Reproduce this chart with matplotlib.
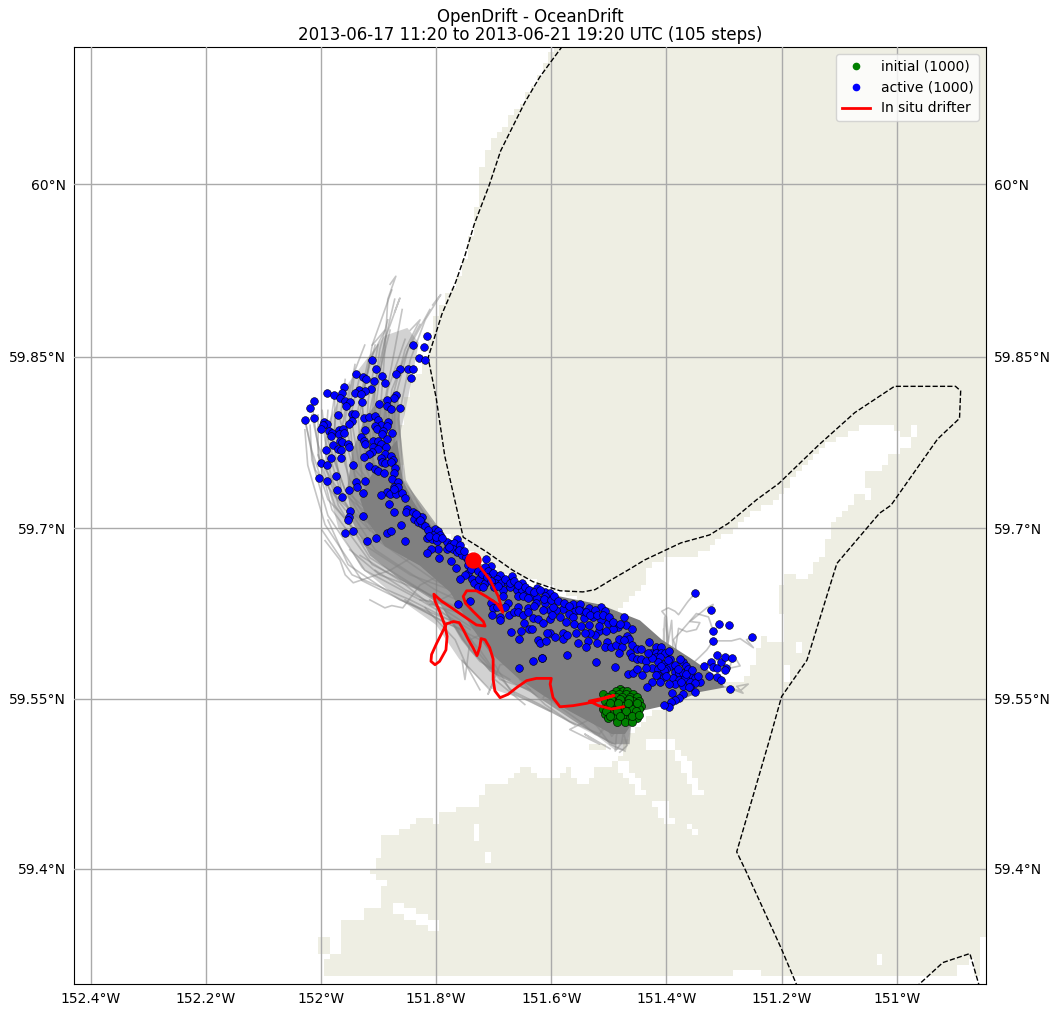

import matplotlib
matplotlib.use("Agg")
import matplotlib.pyplot as plt
import numpy as np
from matplotlib.colors import ListedColormap
from matplotlib.path import Path

LON_LIM = (-152.429, -150.845)
LAT_LIM = (59.298, 60.119)

LON_TICKS = [-152.4, -152.2, -152.0, -151.8, -151.6, -151.4, -151.2, -151.0]
LON_LABELS = ["152.4°W", "152.2°W", "152°W", "151.8°W", "151.6°W", "151.4°W", "151.2°W", "151°W"]
LAT_TICKS = [59.4, 59.55, 59.7, 59.85, 60.0]
LAT_LABELS = ["59.4°N", "59.55°N", "59.7°N", "59.85°N", "60°N"]

TITLE = "OpenDrift - OceanDrift\n2013-06-17 11:20 to 2013-06-21 19:20 UTC (105 steps)"

LAND = [
    (-151.592, 60.13), (-151.608, 60.105), (-151.634, 60.083), (-151.677, 60.054), (-151.708, 60.036),
    (-151.721, 60.012), (-151.731, 59.979), (-151.747, 59.938), (-151.766, 59.915), (-151.793, 59.891),
    (-151.806, 59.882), (-151.814, 59.850), (-151.828, 59.838), (-151.845, 59.830), (-151.854, 59.801),
    (-151.868, 59.780), (-151.868, 59.771), (-151.858, 59.751), (-151.858, 59.739), (-151.828, 59.714),
    (-151.793, 59.698), (-151.759, 59.687), (-151.724, 59.674), (-151.694, 59.661), (-151.655, 59.656),
    (-151.625, 59.652), (-151.602, 59.648), (-151.550, 59.637), (-151.516, 59.626), (-151.481, 59.626),
    (-151.476, 59.635), (-151.469, 59.637), (-151.441, 59.646), (-151.434, 59.663), (-151.408, 59.672),
    (-151.325, 59.679), (-151.319, 59.688), (-151.285, 59.698), (-151.250, 59.713), (-151.208, 59.725),
    (-151.200, 59.731), (-151.181, 59.742), (-151.156, 59.757), (-151.120, 59.774), (-151.087, 59.783),
    (-151.047, 59.792), (-151.017, 59.792), (-151.000, 59.784), (-150.977, 59.779), (-150.981, 59.768),
    (-151.000, 59.767), (-151.017, 59.762), (-151.024, 59.751), (-151.052, 59.751), (-151.052, 59.736),
    (-151.043, 59.726), (-151.076, 59.729), (-151.082, 59.718), (-151.104, 59.710), (-151.116, 59.701),
    (-151.122, 59.681), (-151.139, 59.669), (-151.156, 59.654), (-151.182, 59.659), (-151.191, 59.659),
    (-151.203, 59.650), (-151.208, 59.637), (-151.208, 59.626), (-151.194, 59.626), (-151.194, 59.598),
    (-151.208, 59.599), (-151.233, 59.605), (-151.243, 59.593), (-151.259, 59.569), (-151.337, 59.558),
    (-151.394, 59.549), (-151.446, 59.527), (-151.477, 59.510), (-151.483, 59.494), (-151.495, 59.492),
    (-151.524, 59.488), (-151.533, 59.477), (-151.556, 59.477), (-151.571, 59.490), (-151.587, 59.482),
    (-151.622, 59.482), (-151.634, 59.490), (-151.656, 59.490), (-151.672, 59.477), (-151.712, 59.473),
    (-151.726, 59.456), (-151.741, 59.456), (-151.769, 59.452), (-151.797, 59.449), (-151.800, 59.442),
    (-151.832, 59.444), (-151.851, 59.435), (-151.892, 59.428), (-151.892, 59.412), (-151.908, 59.407),
    (-151.913, 59.393), (-151.892, 59.392), (-151.878, 59.383), (-151.892, 59.383), (-151.892, 59.367),
    (-151.924, 59.367), (-151.929, 59.354), (-151.958, 59.354), (-151.965, 59.350), (-151.970, 59.334),
    (-151.970, 59.324), (-151.991, 59.321), (-151.991, 59.303), (-150.84, 59.303), (-150.84, 60.13),
]
LAND_BLOCKS = [
    [(-151.540, 59.512), (-151.502, 59.512), (-151.502, 59.503), (-151.540, 59.503)],
    [(-152.002, 59.338), (-151.988, 59.338), (-151.988, 59.326), (-152.002, 59.326)],
]
WATER_HOLES = [
    [(-151.431, 59.513), (-151.389, 59.513), (-151.389, 59.505), (-151.431, 59.505)],
    [(-151.385, 59.506), (-151.368, 59.501), (-151.347, 59.479), (-151.339, 59.466),
     (-151.351, 59.466), (-151.363, 59.479), (-151.380, 59.497)],
    [(-151.429, 59.461), (-151.415, 59.462), (-151.398, 59.459), (-151.398, 59.444),
     (-151.377, 59.442), (-151.377, 59.439), (-151.405, 59.439), (-151.415, 59.453)],
    [(-151.370, 59.439), (-151.356, 59.439), (-151.339, 59.428), (-151.349, 59.428)],
    [(-151.738, 59.439), (-151.724, 59.442), (-151.721, 59.420), (-151.734, 59.425)],
    [(-151.712, 59.416), (-151.701, 59.416), (-151.701, 59.407), (-151.712, 59.407)],
    [(-151.878, 59.370), (-151.863, 59.370), (-151.837, 59.363), (-151.797, 59.352),
     (-151.797, 59.343), (-151.819, 59.348), (-151.845, 59.355), (-151.872, 59.362)],
    [(-151.037, 59.325), (-151.028, 59.325), (-151.028, 59.316), (-151.037, 59.316)],
    [(-151.281, 59.310), (-151.238, 59.310), (-151.238, 59.303), (-151.281, 59.303)],
    [(-151.495, 59.492), (-151.472, 59.494), (-151.446, 59.475), (-151.436, 59.466),
     (-151.450, 59.466), (-151.472, 59.481)],
    [(-150.891, 59.315), (-150.868, 59.319), (-150.859, 59.304), (-150.891, 59.304)],
    [(-150.854, 59.339), (-150.84, 59.339), (-150.84, 59.29), (-150.854, 59.29)],
    [(-150.973, 59.788), (-150.965, 59.788), (-150.965, 59.781), (-150.973, 59.781)],
    [(-151.174, 59.598), (-151.165, 59.598), (-151.165, 59.590), (-151.174, 59.590)],
    [(-151.198, 59.580), (-151.186, 59.580), (-151.186, 59.564), (-151.198, 59.564)],
]

BOUNDARY_A = [
    (-151.573, 60.125), (-151.601, 60.106), (-151.620, 60.093), (-151.646, 60.071), (-151.688, 60.029),
    (-151.708, 59.999), (-151.734, 59.965), (-151.750, 59.938), (-151.766, 59.915), (-151.790, 59.887),
    (-151.814, 59.849), (-151.800, 59.814), (-151.785, 59.763), (-151.753, 59.692), (-151.712, 59.679),
    (-151.667, 59.663), (-151.632, 59.653), (-151.585, 59.645), (-151.545, 59.644), (-151.524, 59.646),
    (-151.498, 59.654), (-151.464, 59.664), (-151.438, 59.672), (-151.375, 59.687), (-151.325, 59.694),
    (-151.293, 59.704), (-151.243, 59.725), (-151.205, 59.739), (-151.135, 59.773), (-151.073, 59.801),
    (-151.004, 59.824), (-150.898, 59.824), (-150.889, 59.820), (-150.891, 59.796), (-150.929, 59.778),
    (-151.010, 59.720), (-151.030, 59.713), (-151.104, 59.669), (-151.156, 59.584), (-151.200, 59.552),
    (-151.221, 59.514), (-151.278, 59.415), (-151.262, 59.398), (-151.201, 59.330), (-151.172, 59.295),
]
BOUNDARY_B = [(-150.967, 59.295), (-150.920, 59.317), (-150.873, 59.325), (-150.856, 59.295)]

# where the trajectories pile up so thick that single lines no longer show
SWARM_LIGHT = [
    (-151.850, 59.875), (-151.830, 59.862), (-151.854, 59.801), (-151.868, 59.771), (-151.858, 59.739),
    (-151.741, 59.663), (-151.460, 59.530), (-151.470, 59.505), (-151.490, 59.505), (-151.520, 59.517),
    (-151.570, 59.530), (-151.640, 59.548), (-151.710, 59.560), (-151.760, 59.585), (-151.800, 59.615),
    (-151.870, 59.640), (-151.930, 59.665), (-151.970, 59.700), (-151.995, 59.750), (-151.990, 59.790),
    (-151.960, 59.822), (-151.925, 59.845), (-151.890, 59.868),
]
SWARM_MID = [
    (-151.866, 59.817), (-151.856, 59.742), (-151.741, 59.663), (-151.516, 59.567), (-151.460, 59.536),
    (-151.464, 59.510), (-151.495, 59.510), (-151.550, 59.527), (-151.637, 59.556), (-151.707, 59.574),
    (-151.755, 59.602), (-151.793, 59.633), (-151.863, 59.655), (-151.915, 59.676), (-151.945, 59.705),
    (-151.955, 59.733), (-151.945, 59.768), (-151.925, 59.795), (-151.900, 59.812),
]
SWARM_CORE = [
    (-151.858, 59.742), (-151.842, 59.725), (-151.819, 59.707), (-151.776, 59.687), (-151.724, 59.669),
    (-151.655, 59.652), (-151.585, 59.640), (-151.516, 59.633), (-151.446, 59.619), (-151.408, 59.602),
    (-151.359, 59.586), (-151.316, 59.571), (-151.299, 59.560), (-151.342, 59.556), (-151.394, 59.545),
    (-151.446, 59.539), (-151.472, 59.519), (-151.495, 59.519), (-151.524, 59.527), (-151.568, 59.539),
    (-151.611, 59.552), (-151.655, 59.567), (-151.707, 59.591), (-151.741, 59.615), (-151.776, 59.644),
    (-151.828, 59.667), (-151.889, 59.684), (-151.918, 59.705), (-151.932, 59.725), (-151.918, 59.742),
    (-151.889, 59.764), (-151.868, 59.777),
]

TRAJECTORIES = [
    [(-151.819, 59.703), (-151.872, 59.742), (-151.898, 59.795), (-151.889, 59.856), (-151.884, 59.900), (-151.870, 59.920), (-151.880, 59.913)],
    [(-151.811, 59.703), (-151.854, 59.742), (-151.866, 59.795), (-151.845, 59.847), (-151.819, 59.882), (-151.792, 59.904), (-151.806, 59.895)],
    [(-151.828, 59.707), (-151.880, 59.751), (-151.906, 59.803), (-151.889, 59.865), (-151.863, 59.901), (-151.872, 59.889)],
    [(-151.819, 59.698), (-151.872, 59.751), (-151.877, 59.812), (-151.854, 59.856), (-151.828, 59.882), (-151.845, 59.873)],
    [(-151.845, 59.711), (-151.906, 59.751), (-151.932, 59.803), (-151.915, 59.847), (-151.889, 59.873), (-151.911, 59.860)],
    [(-151.863, 59.689), (-151.958, 59.716), (-152.010, 59.751), (-152.028, 59.795)],
    [(-151.845, 59.681), (-151.950, 59.716), (-152.002, 59.760), (-152.014, 59.803)],
    [(-151.880, 59.698), (-151.958, 59.733), (-151.988, 59.777), (-151.976, 59.817)],
    [(-151.863, 59.707), (-151.941, 59.751), (-151.958, 59.795), (-151.941, 59.843)],
    [(-151.828, 59.698), (-151.924, 59.768), (-151.929, 59.817), (-151.906, 59.860)],
    [(-151.741, 59.672), (-151.828, 59.650), (-151.858, 59.630), (-151.877, 59.632), (-151.889, 59.630), (-151.915, 59.637)],
    [(-151.793, 59.689), (-151.880, 59.663), (-151.944, 59.652), (-151.958, 59.659), (-151.967, 59.672), (-151.993, 59.689)],
    [(-151.724, 59.654), (-151.793, 59.637), (-151.811, 59.633), (-151.785, 59.634), (-151.828, 59.637)],
    [(-151.672, 59.619), (-151.741, 59.602), (-151.750, 59.567), (-151.755, 59.584), (-151.707, 59.558)],
    [(-151.620, 59.584), (-151.689, 59.580), (-151.710, 59.554), (-151.698, 59.567), (-151.646, 59.545)],
    [(-151.533, 59.532), (-151.568, 59.523), (-151.516, 59.510), (-151.542, 59.519), (-151.498, 59.506)],
    [(-151.400, 59.576), (-151.397, 59.605), (-151.400, 59.622), (-151.408, 59.627), (-151.397, 59.630), (-151.385, 59.627), (-151.379, 59.624), (-151.365, 59.634), (-151.362, 59.636), (-151.350, 59.643)],
    [(-151.388, 59.582), (-151.379, 59.612), (-151.365, 59.609), (-151.348, 59.611), (-151.342, 59.617), (-151.359, 59.618), (-151.330, 59.630), (-151.319, 59.633), (-151.322, 59.628)],
    [(-151.377, 59.582), (-151.388, 59.602), (-151.377, 59.608), (-151.348, 59.625), (-151.327, 59.622), (-151.319, 59.610)],
    [(-151.359, 59.579), (-151.342, 59.587), (-151.330, 59.593), (-151.319, 59.601), (-151.287, 59.601), (-151.272, 59.603), (-151.249, 59.595), (-151.261, 59.602), (-151.251, 59.604)],
    [(-151.353, 59.576), (-151.313, 59.584), (-151.278, 59.584), (-151.272, 59.579), (-151.290, 59.577), (-151.286, 59.586)],
    [(-151.319, 59.564), (-151.295, 59.560), (-151.272, 59.557), (-151.258, 59.563), (-151.278, 59.561), (-151.267, 59.555), (-151.289, 59.559)],
    [(-151.405, 59.611), (-151.403, 59.587), (-151.408, 59.576), (-151.403, 59.622), (-151.397, 59.599), (-151.391, 59.619), (-151.388, 59.587)],
    [(-151.481, 59.532), (-151.487, 59.517), (-151.489, 59.504), (-151.478, 59.511), (-151.475, 59.520), (-151.468, 59.509), (-151.481, 59.503)],
    [(-151.501, 59.532), (-151.515, 59.520), (-151.504, 59.526), (-151.495, 59.517), (-151.481, 59.526)],
    [(-151.614, 59.551), (-151.602, 59.561), (-151.588, 59.567), (-151.608, 59.555)],
    [(-151.741, 59.668), (-151.819, 59.685), (-151.872, 59.725), (-151.898, 59.768), (-151.884, 59.821), (-151.854, 59.865)],
    [(-151.741, 59.663), (-151.828, 59.682), (-151.884, 59.716), (-151.911, 59.764), (-151.906, 59.821), (-151.880, 59.873)],
    [(-151.724, 59.654), (-151.819, 59.676), (-151.889, 59.711), (-151.924, 59.755), (-151.918, 59.812), (-151.901, 59.860)],
    [(-151.707, 59.646), (-151.811, 59.668), (-151.889, 59.703), (-151.929, 59.746), (-151.936, 59.803), (-151.918, 59.847)],
    [(-151.707, 59.637), (-151.811, 59.661), (-151.898, 59.698), (-151.941, 59.742), (-151.950, 59.795), (-151.932, 59.834)],
    [(-151.689, 59.628), (-151.802, 59.654), (-151.901, 59.689), (-151.950, 59.733), (-151.964, 59.786), (-151.950, 59.825)],
    [(-151.689, 59.619), (-151.802, 59.646), (-151.906, 59.681), (-151.962, 59.725), (-151.979, 59.777), (-151.970, 59.817)],
    [(-151.672, 59.611), (-151.811, 59.641), (-151.915, 59.674), (-151.970, 59.720), (-151.993, 59.768), (-151.988, 59.803)],
    [(-151.672, 59.606), (-151.793, 59.637), (-151.911, 59.668), (-151.981, 59.716), (-152.005, 59.764), (-152.005, 59.799)],
    [(-151.741, 59.611), (-151.828, 59.637), (-151.924, 59.663), (-151.988, 59.711), (-152.016, 59.760), (-152.019, 59.790)],
    [(-151.724, 59.602), (-151.845, 59.633), (-151.929, 59.654), (-151.993, 59.703), (-152.023, 59.755), (-152.028, 59.786)],
    [(-151.759, 59.615), (-151.845, 59.637), (-151.946, 59.659), (-151.998, 59.698)],
    [(-151.776, 59.619), (-151.863, 59.637), (-151.953, 59.668), (-151.988, 59.707)],
    [(-151.750, 59.624), (-151.811, 59.633), (-151.863, 59.654), (-151.932, 59.676)],
    [(-151.733, 59.611), (-151.785, 59.628), (-151.854, 59.646), (-151.906, 59.663)],
    [(-151.767, 59.628), (-151.828, 59.646), (-151.898, 59.659), (-151.950, 59.681)],
    [(-151.724, 59.593), (-151.755, 59.611), (-151.793, 59.619), (-151.854, 59.637)],
    [(-151.707, 59.576), (-151.741, 59.593), (-151.773, 59.619), (-151.811, 59.637)],
    [(-151.672, 59.567), (-151.724, 59.583), (-151.755, 59.602), (-151.785, 59.628)],
    [(-151.637, 59.558), (-151.689, 59.567), (-151.724, 59.589), (-151.750, 59.611)],
    [(-151.863, 59.725), (-151.889, 59.768), (-151.877, 59.821), (-151.842, 59.865), (-151.828, 59.878)],
    [(-151.845, 59.716), (-151.872, 59.760), (-151.872, 59.812), (-151.849, 59.856), (-151.811, 59.891)],
    [(-151.837, 59.711), (-151.880, 59.751), (-151.889, 59.812), (-151.872, 59.856), (-151.859, 59.891)],
    [(-151.854, 59.716), (-151.898, 59.751), (-151.911, 59.803), (-151.898, 59.856), (-151.884, 59.882)],
    [(-151.872, 59.720), (-151.915, 59.755), (-151.929, 59.808), (-151.911, 59.860), (-151.877, 59.908)],
    [(-151.863, 59.711), (-151.906, 59.746), (-151.918, 59.795), (-151.901, 59.838), (-151.872, 59.900)],
    [(-151.880, 59.716), (-151.932, 59.751), (-151.950, 59.803), (-151.941, 59.838), (-151.924, 59.860)],
    [(-151.889, 59.716), (-151.941, 59.746), (-151.967, 59.795), (-151.958, 59.830)],
    [(-151.898, 59.711), (-151.950, 59.742), (-151.976, 59.786), (-151.976, 59.812)],
    [(-151.906, 59.707), (-151.967, 59.733), (-151.993, 59.777), (-151.998, 59.803)],
    [(-151.915, 59.698), (-151.976, 59.729), (-152.005, 59.773), (-152.016, 59.799)],
    [(-151.924, 59.689), (-151.988, 59.725), (-152.016, 59.768), (-152.028, 59.795)],
    [(-151.724, 59.558), (-151.748, 59.580), (-151.767, 59.602), (-151.819, 59.630)],
    [(-151.602, 59.539), (-151.663, 59.554), (-151.698, 59.574), (-151.724, 59.593)],
    [(-151.559, 59.527), (-151.620, 59.545), (-151.672, 59.558), (-151.698, 59.580)],
    [(-151.516, 59.519), (-151.568, 59.530), (-151.611, 59.545), (-151.655, 59.567)],
    [(-151.490, 59.510), (-151.524, 59.519), (-151.550, 59.530), (-151.602, 59.549)],
    [(-151.472, 59.504), (-151.498, 59.510), (-151.516, 59.523), (-151.542, 59.539)],
    [(-151.793, 59.663), (-151.854, 59.676), (-151.915, 59.698), (-151.958, 59.733), (-151.984, 59.768)],
    [(-151.776, 59.646), (-151.845, 59.659), (-151.924, 59.685), (-151.976, 59.720), (-152.005, 59.764)],
]

ACTIVE = [
    (-151.816, 59.868), (-151.840, 59.860), (-151.821, 59.858), (-151.830, 59.849), (-151.819, 59.847), (-151.911, 59.847),
    (-151.904, 59.839), (-151.863, 59.839), (-151.849, 59.839), (-151.840, 59.839), (-151.870, 59.835), (-151.894, 59.833),
    (-151.939, 59.835), (-151.927, 59.832), (-151.922, 59.830), (-151.908, 59.829), (-151.844, 59.831), (-151.889, 59.827),
    (-151.913, 59.822), (-151.960, 59.823), (-151.934, 59.821), (-151.924, 59.820), (-151.941, 59.818), (-151.931, 59.817),
    (-151.870, 59.816), (-151.873, 59.814), (-151.990, 59.818), (-151.977, 59.816), (-151.964, 59.818), (-151.967, 59.814),
    (-151.958, 59.811), (-151.950, 59.810), (-151.929, 59.810), (-152.012, 59.811), (-152.019, 59.805), (-151.957, 59.807),
    (-151.899, 59.809), (-151.885, 59.812), (-151.885, 59.807), (-151.878, 59.804), (-151.863, 59.805), (-151.970, 59.799),
    (-151.946, 59.800), (-151.941, 59.800), (-152.028, 59.795), (-152.012, 59.796), (-151.925, 59.796), (-151.917, 59.797),
    (-151.906, 59.798), (-151.946, 59.794), (-151.951, 59.791), (-151.901, 59.795), (-151.884, 59.793), (-151.995, 59.793),
    (-151.990, 59.791), (-151.997, 59.790), (-152.000, 59.787), (-151.896, 59.790), (-151.906, 59.789), (-151.903, 59.787),
    (-151.885, 59.789), (-151.892, 59.785), (-151.924, 59.786), (-151.986, 59.785), (-151.969, 59.786), (-151.962, 59.787),
    (-151.981, 59.783), (-151.983, 59.781), (-151.969, 59.782), (-151.960, 59.783), (-151.877, 59.783), (-151.931, 59.780),
    (-151.894, 59.782), (-151.885, 59.778), (-151.967, 59.776), (-151.925, 59.776), (-151.979, 59.773), (-151.964, 59.775),
    (-151.953, 59.774), (-151.951, 59.771), (-151.910, 59.776), (-151.901, 59.776), (-151.896, 59.774), (-151.924, 59.774),
    (-151.910, 59.771), (-151.901, 59.769), (-151.887, 59.771), (-151.991, 59.768), (-151.970, 59.769), (-151.965, 59.768),
    (-151.911, 59.767), (-151.917, 59.765), (-151.889, 59.765), (-151.878, 59.763), (-151.925, 59.762), (-151.983, 59.761),
    (-151.965, 59.761), (-151.896, 59.761), (-151.894, 59.758), (-151.889, 59.757), (-151.875, 59.760), (-151.878, 59.758),
    (-152.000, 59.757), (-151.990, 59.755), (-151.944, 59.755), (-151.917, 59.754), (-151.906, 59.752), (-151.901, 59.750),
    (-151.891, 59.748), (-151.871, 59.753), (-151.874, 59.748), (-151.877, 59.743), (-152.003, 59.744), (-151.990, 59.741),
    (-151.974, 59.746), (-151.924, 59.741), (-151.939, 59.740), (-151.937, 59.736), (-151.866, 59.740), (-151.873, 59.736),
    (-151.867, 59.736), (-151.972, 59.733), (-151.951, 59.733), (-151.927, 59.731), (-151.885, 59.732), (-151.896, 59.729),
    (-151.880, 59.730), (-151.870, 59.730), (-151.859, 59.731), (-151.854, 59.726), (-151.964, 59.727), (-151.873, 59.734),
    (-151.882, 59.721), (-151.874, 59.714), (-151.850, 59.717), (-151.853, 59.714), (-151.840, 59.714), (-151.831, 59.711),
    (-151.825, 59.710), (-151.838, 59.708), (-151.831, 59.705), (-151.825, 59.704), (-151.819, 59.702), (-151.861, 59.703),
    (-151.927, 59.711), (-151.949, 59.715), (-151.951, 59.710), (-151.953, 59.707), (-151.958, 59.696), (-151.944, 59.697),
    (-151.920, 59.689), (-151.904, 59.691), (-151.885, 59.696), (-151.878, 59.697), (-151.854, 59.689), (-151.810, 59.696),
    (-151.802, 59.699), (-151.797, 59.697), (-151.805, 59.694), (-151.793, 59.694), (-151.816, 59.691), (-151.807, 59.690),
    (-151.798, 59.689), (-151.782, 59.688), (-151.775, 59.686), (-151.764, 59.690), (-151.769, 59.687), (-151.758, 59.685),
    (-151.781, 59.682), (-151.770, 59.682), (-151.764, 59.679), (-151.755, 59.676), (-151.748, 59.675), (-151.797, 59.682),
    (-151.809, 59.682), (-151.816, 59.678), (-151.795, 59.674), (-151.774, 59.671), (-151.765, 59.665), (-151.713, 59.673),
    (-151.704, 59.667), (-151.715, 59.666), (-151.710, 59.662), (-151.701, 59.661), (-151.689, 59.659), (-151.668, 59.658),
    (-151.694, 59.655), (-151.744, 59.661), (-151.750, 59.659), (-151.758, 59.655), (-151.737, 59.655), (-151.734, 59.652),
    (-151.725, 59.655), (-151.715, 59.652), (-151.727, 59.648), (-151.718, 59.648), (-151.698, 59.652), (-151.687, 59.652),
    (-151.676, 59.652), (-151.684, 59.646), (-151.671, 59.648), (-151.660, 59.646), (-151.651, 59.652), (-151.651, 59.646),
    (-151.625, 59.647), (-151.611, 59.644), (-151.603, 59.643), (-151.643, 59.643), (-151.633, 59.640), (-151.625, 59.639),
    (-151.611, 59.640), (-151.658, 59.640), (-151.649, 59.640), (-151.640, 59.639), (-151.684, 59.640), (-151.675, 59.634),
    (-151.658, 59.631), (-151.640, 59.630), (-151.626, 59.634), (-151.611, 59.634), (-151.603, 59.628), (-151.681, 59.631),
    (-151.704, 59.634), (-151.701, 59.630), (-151.694, 59.631), (-151.741, 59.636), (-151.762, 59.633), (-151.703, 59.624),
    (-151.689, 59.622), (-151.689, 59.619), (-151.673, 59.624), (-151.665, 59.626), (-151.658, 59.626), (-151.649, 59.624),
    (-151.640, 59.626), (-151.647, 59.617), (-151.632, 59.621), (-151.623, 59.620), (-151.614, 59.617), (-151.603, 59.620),
    (-151.670, 59.609), (-151.652, 59.610), (-151.656, 59.603), (-151.638, 59.611), (-151.633, 59.611), (-151.623, 59.602),
    (-151.619, 59.599), (-151.609, 59.601), (-151.632, 59.583), (-151.616, 59.586), (-151.656, 59.577), (-151.603, 59.608),
    (-151.608, 59.608), (-151.513, 59.631), (-151.534, 59.630), (-151.506, 59.627), (-151.524, 59.628), (-151.546, 59.627),
    (-151.559, 59.627), (-151.570, 59.625), (-151.579, 59.629), (-151.591, 59.628), (-151.597, 59.631), (-151.562, 59.633),
    (-151.550, 59.633), (-151.562, 59.622), (-151.544, 59.621), (-151.527, 59.622), (-151.513, 59.619), (-151.501, 59.617),
    (-151.485, 59.613), (-151.473, 59.622), (-151.471, 59.615), (-151.459, 59.611), (-151.492, 59.611), (-151.517, 59.610),
    (-151.524, 59.606), (-151.533, 59.608), (-151.541, 59.608), (-151.557, 59.608), (-151.579, 59.608), (-151.580, 59.603),
    (-151.593, 59.604), (-151.573, 59.606), (-151.553, 59.599), (-151.536, 59.601), (-151.539, 59.596), (-151.520, 59.599),
    (-151.504, 59.600), (-151.506, 59.596), (-151.496, 59.596), (-151.487, 59.597), (-151.477, 59.596), (-151.482, 59.603),
    (-151.468, 59.605), (-151.465, 59.603), (-151.473, 59.602), (-151.430, 59.600), (-151.459, 59.597), (-151.482, 59.590),
    (-151.463, 59.590), (-151.451, 59.594), (-151.444, 59.594), (-151.459, 59.587), (-151.451, 59.585), (-151.444, 59.585),
    (-151.435, 59.583), (-151.426, 59.590), (-151.419, 59.596), (-151.410, 59.596), (-151.419, 59.590), (-151.409, 59.590),
    (-151.402, 59.590), (-151.419, 59.587), (-151.411, 59.587), (-151.393, 59.585), (-151.414, 59.582), (-151.404, 59.581),
    (-151.393, 59.579), (-151.386, 59.580), (-151.372, 59.582), (-151.366, 59.579), (-151.425, 59.577), (-151.414, 59.576),
    (-151.400, 59.576), (-151.386, 59.574), (-151.379, 59.573), (-151.372, 59.573), (-151.362, 59.576), (-151.359, 59.571),
    (-151.350, 59.568), (-151.341, 59.565), (-151.414, 59.571), (-151.419, 59.571), (-151.405, 59.569), (-151.388, 59.568),
    (-151.378, 59.567), (-151.367, 59.568), (-151.359, 59.565), (-151.350, 59.564), (-151.425, 59.565), (-151.411, 59.565),
    (-151.386, 59.563), (-151.371, 59.561), (-151.359, 59.560), (-151.350, 59.556), (-151.433, 59.560), (-151.390, 59.555),
    (-151.371, 59.554), (-151.378, 59.551), (-151.385, 59.549), (-151.392, 59.547), (-151.395, 59.543), (-151.404, 59.545),
    (-151.467, 59.572), (-151.458, 59.573), (-151.451, 59.576), (-151.442, 59.571), (-151.435, 59.577), (-151.490, 59.578),
    (-151.522, 59.582), (-151.572, 59.589), (-151.616, 59.586), (-151.334, 59.579), (-151.326, 59.570), (-151.313, 59.569),
    (-151.305, 59.567), (-151.289, 59.559), (-151.322, 59.582), (-151.319, 59.578), (-151.312, 59.577), (-151.305, 59.582),
    (-151.296, 59.577), (-151.298, 59.575), (-151.313, 59.589), (-151.298, 59.587), (-151.286, 59.586), (-151.319, 59.601),
    (-151.319, 59.610), (-151.308, 59.616), (-151.291, 59.615), (-151.322, 59.628), (-151.350, 59.643), (-151.251, 59.604),
    (-151.745, 59.668), (-151.740, 59.664), (-151.728, 59.662), (-151.720, 59.660), (-151.712, 59.657), (-151.705, 59.654),
    (-151.700, 59.648), (-151.692, 59.649), (-151.680, 59.655), (-151.672, 59.652), (-151.664, 59.654), (-151.657, 59.650),
    (-151.645, 59.648), (-151.638, 59.646), (-151.630, 59.644), (-151.620, 59.646), (-151.612, 59.638), (-151.600, 59.637),
    (-151.595, 59.640), (-151.588, 59.636), (-151.578, 59.634), (-151.570, 59.632), (-151.552, 59.628), (-151.540, 59.626),
    (-151.532, 59.624), (-151.520, 59.624), (-151.510, 59.624), (-151.500, 59.622), (-151.492, 59.618), (-151.480, 59.616),
    (-151.630, 59.632), (-151.615, 59.628), (-151.598, 59.624), (-151.585, 59.622), (-151.575, 59.618), (-151.560, 59.616),
    (-151.548, 59.614), (-151.535, 59.615), (-151.518, 59.614), (-151.505, 59.610), (-151.395, 59.592), (-151.398, 59.584),
    (-151.405, 59.575), (-151.380, 59.576), (-151.376, 59.585), (-151.366, 59.572), (-151.355, 59.575), (-151.345, 59.570),
    (-151.360, 59.560), (-151.375, 59.565), (-151.395, 59.563), (-151.400, 59.570), (-151.410, 59.579), (-151.425, 59.586),
    (-151.432, 59.590), (-151.835, 59.712), (-151.828, 59.707), (-151.815, 59.698), (-151.812, 59.693), (-151.800, 59.692),
    (-151.790, 59.691), (-151.778, 59.683), (-151.760, 59.681), (-151.752, 59.680), (-151.745, 59.672),
]

INITIAL = [
    (-151.481, 59.559), (-151.488, 59.557), (-151.475, 59.557), (-151.468, 59.557), (-151.510, 59.554), (-151.495, 59.554),
    (-151.482, 59.554), (-151.470, 59.554), (-151.458, 59.554), (-151.501, 59.552), (-151.488, 59.552), (-151.477, 59.552),
    (-151.463, 59.552), (-151.452, 59.552), (-151.506, 59.548), (-151.493, 59.548), (-151.482, 59.548), (-151.470, 59.548),
    (-151.458, 59.548), (-151.448, 59.548), (-151.501, 59.544), (-151.489, 59.544), (-151.475, 59.544), (-151.464, 59.544),
    (-151.453, 59.544), (-151.445, 59.544), (-151.510, 59.541), (-151.497, 59.541), (-151.484, 59.541), (-151.472, 59.541),
    (-151.460, 59.541), (-151.448, 59.541), (-151.507, 59.537), (-151.493, 59.537), (-151.481, 59.537), (-151.468, 59.537),
    (-151.455, 59.537), (-151.501, 59.533), (-151.488, 59.533), (-151.475, 59.533), (-151.463, 59.533), (-151.452, 59.533),
    (-151.486, 59.530), (-151.472, 59.530), (-151.459, 59.530), (-151.497, 59.550), (-151.480, 59.550), (-151.465, 59.550),
    (-151.498, 59.546), (-151.484, 59.546), (-151.466, 59.546), (-151.452, 59.546), (-151.505, 59.539), (-151.486, 59.539),
    (-151.470, 59.539), (-151.453, 59.539), (-151.498, 59.535), (-151.480, 59.535), (-151.460, 59.535), (-151.448, 59.536),
]

DRIFTER = [
    (-151.475, 59.543), (-151.495, 59.541), (-151.518, 59.544), (-151.534, 59.548), (-151.515, 59.550), (-151.491, 59.553),
    (-151.515, 59.549), (-151.539, 59.546), (-151.562, 59.544), (-151.585, 59.543), (-151.597, 59.551), (-151.602, 59.563),
    (-151.600, 59.568), (-151.620, 59.568), (-151.626, 59.568), (-151.643, 59.566), (-151.660, 59.560), (-151.675, 59.554),
    (-151.689, 59.551), (-151.698, 59.557), (-151.701, 59.567), (-151.701, 59.585), (-151.707, 59.595), (-151.715, 59.602),
    (-151.722, 59.603), (-151.724, 59.596), (-151.729, 59.588), (-151.736, 59.595), (-151.744, 59.602), (-151.753, 59.611),
    (-151.760, 59.617), (-151.770, 59.618), (-151.782, 59.616), (-151.787, 59.611), (-151.799, 59.599), (-151.808, 59.589),
    (-151.809, 59.583), (-151.802, 59.580), (-151.794, 59.583), (-151.783, 59.593), (-151.781, 59.605), (-151.785, 59.615),
    (-151.794, 59.627), (-151.802, 59.636), (-151.804, 59.642), (-151.791, 59.636), (-151.773, 59.630), (-151.753, 59.623),
    (-151.730, 59.615), (-151.715, 59.614), (-151.718, 59.618), (-151.736, 59.627), (-151.749, 59.634), (-151.753, 59.640),
    (-151.747, 59.645), (-151.730, 59.645), (-151.713, 59.640), (-151.695, 59.634), (-151.684, 59.626), (-151.692, 59.640),
    (-151.707, 59.655), (-151.724, 59.666), (-151.736, 59.672),
]


def merc(lat):
    lat = np.radians(np.clip(lat, 1, 89))
    return np.log(np.tan(np.pi / 4 + lat / 2))


def merc_inv(y):
    return np.degrees(2 * np.arctan(np.exp(y)) - np.pi / 2)


def land_mask():
    # blocky land like the model grid, about 5.7 px per cell
    lon_edges = np.arange(-152.435, -150.835, 0.01)
    lat_edges = np.arange(59.295, 60.135, 0.005)
    lon_mid = (lon_edges[:-1] + lon_edges[1:]) / 2
    lat_mid = (lat_edges[:-1] + lat_edges[1:]) / 2
    xx, yy = np.meshgrid(lon_mid, lat_mid)
    pts = np.column_stack([xx.ravel(), yy.ravel()])
    land = Path(LAND + [LAND[0]]).contains_points(pts)
    for block in LAND_BLOCKS:
        land |= Path(block + [block[0]]).contains_points(pts)
    for hole in WATER_HOLES:
        land &= ~Path(hole + [hole[0]]).contains_points(pts)
    return lon_edges, lat_edges, np.ma.masked_where(~land.reshape(xx.shape), np.ones(xx.shape))


fig = plt.figure(figsize=(10.6, 10.15), dpi=100)
ax = fig.add_axes([74 / 1060, 1 - 984 / 1015, 912 / 1060, 937 / 1015])
ax.set_yscale("function", functions=(merc, merc_inv))

lon_edges, lat_edges, mask = land_mask()
ax.pcolormesh(lon_edges, lat_edges, mask, cmap=ListedColormap(["#eeeee3"]), zorder=1, antialiased=False)

for poly, alpha in [(SWARM_LIGHT, 0.35), (SWARM_MID, 0.65), (SWARM_CORE, 1.0)]:
    pts = np.array(poly)
    ax.fill(pts[:, 0], pts[:, 1], color="gray", alpha=alpha, lw=0, zorder=3)
for path in TRAJECTORIES:
    pts = np.array(path)
    ax.plot(pts[:, 0], pts[:, 1], color="gray", alpha=0.45, lw=1.2, zorder=3)

for bnd in (BOUNDARY_A, BOUNDARY_B):
    pts = np.array(bnd)
    ax.plot(pts[:, 0], pts[:, 1], color="k", ls="--", lw=1, zorder=4)

ini = np.array(INITIAL)
act = np.array(ACTIVE)
dri = np.array(DRIFTER)
ax.scatter(act[:, 0], act[:, 1], s=31, c="b", edgecolors="k", linewidths=0.4, zorder=5)
ax.scatter(ini[:, 0], ini[:, 1], s=34, c="g", edgecolors="k", linewidths=0.4, zorder=6)
ax.plot(dri[:, 0], dri[:, 1], color="r", lw=2, zorder=7)
ax.scatter(dri[-1, 0], dri[-1, 1], s=115, c="r", zorder=8)

ax.plot([], [], "o", color="g", ms=4.5, label="initial (1000)")
ax.plot([], [], "o", color="b", ms=4.5, label="active (1000)")
ax.plot([], [], color="r", lw=2, label="In situ drifter")
ax.legend(loc="upper right", fontsize=10)

ax.set_xlim(LON_LIM)
ax.set_ylim(LAT_LIM)
ax.set_xticks(LON_TICKS, LON_LABELS)
ax.set_yticks(LAT_TICKS, LAT_LABELS)
ax.minorticks_off()
ax.tick_params(length=0, labelsize=10, labelright=True, pad=6)
ax.grid(True, color="#aaaaaa", lw=1)
ax.set_axisbelow(False)
for line in ax.get_xgridlines() + ax.get_ygridlines():
    line.set_zorder(2)
ax.set_title(TITLE, fontsize=12, pad=5, linespacing=0.98)

fig.savefig("out.png", dpi=100)
